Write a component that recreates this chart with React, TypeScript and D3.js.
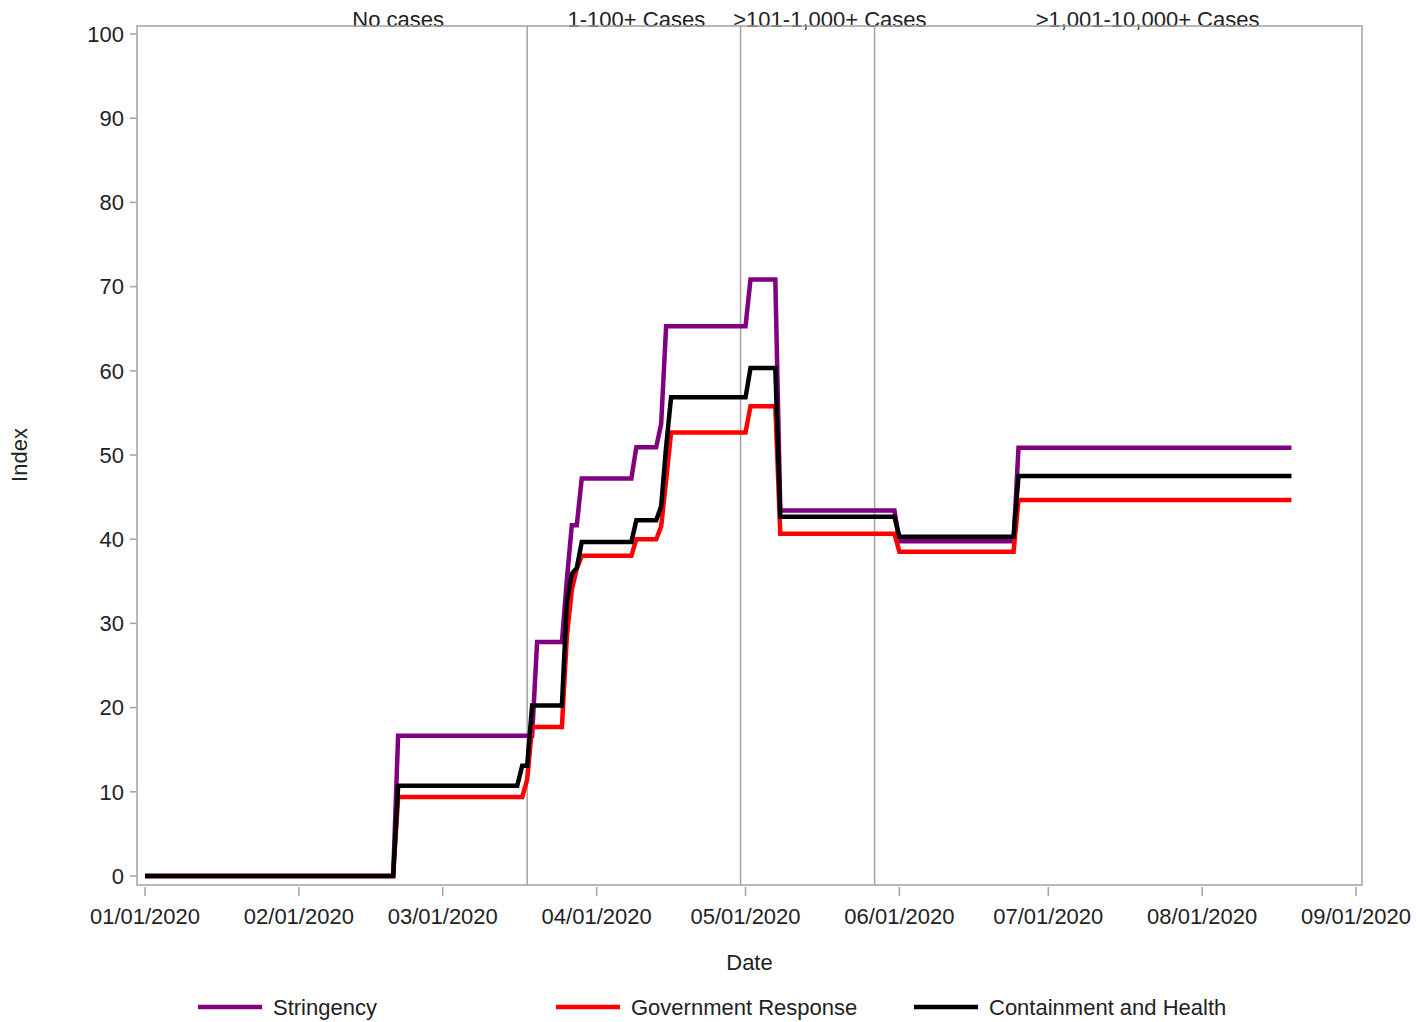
import React from "react";
import * as d3 from "d3";

// ---- data ----
const dates = [
  "2020-01-01", "2020-02-20", "2020-02-21", "2020-03-16", "2020-03-17", "2020-03-18",
  "2020-03-19", "2020-03-20", "2020-03-25", "2020-03-26", "2020-03-27", "2020-03-28",
  "2020-03-29", "2020-04-08", "2020-04-09", "2020-04-13", "2020-04-14", "2020-04-15",
  "2020-04-16", "2020-05-01", "2020-05-02", "2020-05-07", "2020-05-08", "2020-05-31",
  "2020-06-01", "2020-06-24", "2020-06-25", "2020-08-19",
];
const stringency = [
  0, 0, 16.67, 16.67, 16.67, 16.67,
  16.67, 27.78, 27.78, 35.19, 41.67, 41.67,
  47.22, 47.22, 50.93, 50.93, 53.7, 65.28,
  65.28, 65.28, 70.83, 70.83, 43.4, 43.4,
  39.75, 39.75, 50.85, 50.85,
];
const governmentResponse = [
  0, 0, 9.38, 9.38, 9.38, 11.46,
  17.71, 17.71, 17.71, 28.5, 34.0, 36.5,
  38.02, 38.02, 40.0, 40.0, 41.5, 47.0,
  52.68, 52.68, 55.8, 55.8, 40.66, 40.66,
  38.5, 38.5, 44.66, 44.66,
];
const containmentHealth = [
  0, 0, 10.71, 10.71, 13.1, 13.1,
  20.24, 20.24, 20.24, 32.5, 35.9, 36.6,
  39.68, 39.68, 42.26, 42.26, 43.9, 51.0,
  56.85, 56.85, 60.32, 60.32, 42.66, 42.66,
  40.3, 40.3, 47.5, 47.5,
];

const seriesNames = ["Stringency", "Government Response", "Containment and Health"];
const seriesColors = ["#800080", "#ff0000", "#000000"];

const xTickDates = [
  "2020-01-01", "2020-02-01", "2020-03-01", "2020-04-01", "2020-05-01",
  "2020-06-01", "2020-07-01", "2020-08-01", "2020-09-01",
];
const yTicks = [0, 10, 20, 30, 40, 50, 60, 70, 80, 90, 100];

const refLineDates = ["2020-03-18", "2020-04-30", "2020-05-27"];
const phaseLabels = ["No cases", "1-100+ Cases", ">101-1,000+ Cases", ">1,001-10,000+ Cases"];
const phaseLabelDates = ["2020-02-21", "2020-04-09", "2020-05-18", "2020-07-21"];

// ---- layout ----
const W = 1416;
const H = 1022;
const frame = { left: 137, right: 1362, top: 26, bottom: 885 };
const FONT = "'Liberation Sans', Arial, sans-serif";
const GRAY = "#a3a3a3";
const FS = 22;

const parse = (s: string) => new Date(s + "T00:00:00Z");

export default function App() {
  const x = d3.scaleUtc().domain([parse("2020-01-01"), parse("2020-09-01")]).range([145, 1356]);
  const y = d3.scaleLinear().domain([0, 100]).range([876, 34]);

  const valueSets = [stringency, governmentResponse, containmentHealth];
  const line = d3
    .line<[Date, number]>()
    .x((d) => x(d[0]))
    .y((d) => y(d[1]));

  const fmt = d3.utcFormat("%m/%d/%Y");

  const legendX = [198, 556, 914];

  return (
    <svg
      width={W}
      height={H}
      style={{ position: "absolute", left: 0, top: 0, background: "#fff" }}
      fontFamily={FONT}
    >
      <rect x={0} y={0} width={W} height={H} fill="#fff" />

      {/* phase labels */}
      {phaseLabels.map((t, i) => (
        <text
          key={t}
          x={x(parse(phaseLabelDates[i]))}
          y={27}
          textAnchor="middle"
          fontSize={FS}
          fill="#222"
        >
          {t}
        </text>
      ))}

      {/* reference lines */}
      {refLineDates.map((d) => (
        <line
          key={d}
          x1={x(parse(d))}
          x2={x(parse(d))}
          y1={frame.top}
          y2={frame.bottom}
          stroke={GRAY}
          strokeWidth={1.5}
        />
      ))}

      {/* series */}
      {valueSets.map((vals, i) => (
        <path
          key={seriesNames[i]}
          d={line(dates.map((d, j) => [parse(d), vals[j]] as [Date, number])) || ""}
          fill="none"
          stroke={seriesColors[i]}
          strokeWidth={4.5}
          strokeLinejoin="miter"
          strokeLinecap="butt"
        />
      ))}

      {/* frame */}
      <rect
        x={frame.left}
        y={frame.top}
        width={frame.right - frame.left}
        height={frame.bottom - frame.top}
        fill="none"
        stroke={GRAY}
        strokeWidth={1.5}
      />

      {/* y axis */}
      {yTicks.map((t) => (
        <g key={t}>
          <line x1={130} x2={frame.left} y1={y(t)} y2={y(t)} stroke={GRAY} strokeWidth={1.5} />
          <text x={124} y={y(t)} dy="0.35em" textAnchor="end" fontSize={FS} fill="#222">
            {t}
          </text>
        </g>
      ))}
      <text
        transform={`translate(27,${(y(0) + y(100)) / 2}) rotate(-90)`}
        textAnchor="middle"
        fontSize={FS}
        fill="#222"
      >
        Index
      </text>

      {/* x axis */}
      {xTickDates.map((d) => {
        const xx = x(parse(d));
        return (
          <g key={d}>
            <line x1={xx} x2={xx} y1={887} y2={896} stroke={GRAY} strokeWidth={1.5} />
            <text x={xx} y={924} textAnchor="middle" fontSize={FS} fill="#222">
              {fmt(parse(d))}
            </text>
          </g>
        );
      })}
      <text x={(frame.left + frame.right) / 2} y={970} textAnchor="middle" fontSize={FS} fill="#222">
        Date
      </text>

      {/* legend */}
      {seriesNames.map((n, i) => (
        <g key={n}>
          <line
            x1={legendX[i]}
            x2={legendX[i] + 64}
            y1={1007}
            y2={1007}
            stroke={seriesColors[i]}
            strokeWidth={4.5}
          />
          <text x={legendX[i] + 75} y={1007} dy="0.35em" fontSize={FS} fill="#222">
            {n}
          </text>
        </g>
      ))}
    </svg>
  );
}
